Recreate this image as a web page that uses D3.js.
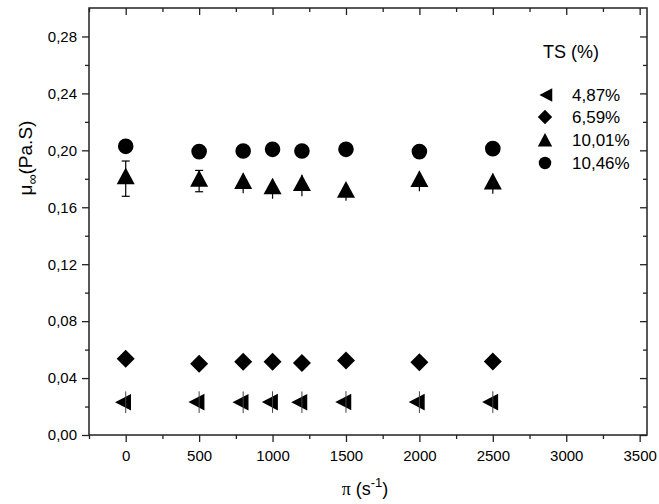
<!DOCTYPE html>
<html>
<head>
<meta charset="utf-8">
<script src="https://cdn.jsdelivr.net/npm/d3@7"></script>
<style>
  body { margin: 0; background: #fff; }
  svg { display: block; }
  text { font-family: Arial, "Liberation Sans", sans-serif; fill: #000; }
</style>
</head>
<body>
<svg id="chart" width="659" height="504"></svg>
<script>
// ---- data ----
const shearRates = [0, 500, 800, 1000, 1200, 1500, 2000, 2500];
const ts487  = [0.0230, 0.0231, 0.0230, 0.0231, 0.0230, 0.0232, 0.0231, 0.0231];
const err487 = [0.0076, 0.0076, 0.0076, 0.0076, 0.0076, 0.0076, 0.0076, 0.0076];
const ts659  = [0.0535, 0.0500, 0.0514, 0.0514, 0.0505, 0.0523, 0.0512, 0.0516];
const ts1001 = [0.1801, 0.1784, 0.1768, 0.1730, 0.1753, 0.1706, 0.1782, 0.1765];
const err1001 = [0.0124, 0.0075, 0.0070, 0.0070, 0.0075, 0.0060, 0.0070, 0.0070];
const caps1001 = [true, true, false, false, false, false, false, false];
const ts1046 = [0.2028, 0.1991, 0.1995, 0.2007, 0.1995, 0.2007, 0.1991, 0.2012];
const seriesNames = ["4,87%", "6,59%", "10,01%", "10,46%"];
const xTickValues = [0, 500, 1000, 1500, 2000, 2500, 3000, 3500];
const yTickValues = [0, 0.04, 0.08, 0.12, 0.16, 0.20, 0.24, 0.28];

// ---- layout ----
const L = 89, R = 647, T = 8, B = 435;
const svg = d3.select("#chart");
const x = d3.scaleLinear().domain([-250, 3550]).range([L, R]);
const y = d3.scaleLinear().domain([0, 0.30]).range([B, T]);
const fmtY = v => d3.format(".2f")(v).replace(".", ",");

// symbol shapes
const shapes = {
  left: s => `M${-10.7*s},0L${5.3*s},${-8.3*s}L${5.3*s},${8.3*s}Z`,
  diamond: s => `M0,${-9*s}L${9*s},0L0,${9*s}L${-9*s},0Z`,
  up: s => `M0,${-11.1*s}L${9*s},${5.6*s}L${-9*s},${5.6*s}Z`,
  circle: s => d3.symbol(d3.symbolCircle, Math.PI * Math.pow(7.8*s, 2))()
};

const series = [
  {name: seriesNames[0], values: ts487, err: err487, shape: "left", caps: null},
  {name: seriesNames[1], values: ts659, err: null, shape: "diamond", caps: null},
  {name: seriesNames[2], values: ts1001, err: err1001, shape: "up", caps: caps1001},
  {name: seriesNames[3], values: ts1046, err: null, shape: "circle", caps: null}
];

// ---- axes ----
const axisColor = "#222";
function styleAxis(g) {
  g.selectAll(".domain").remove();
  g.selectAll("line").attr("stroke", axisColor).attr("stroke-width", 1.3);
  g.selectAll("text").style("font-size", "15px").attr("fill", "#000");
}
const xMinor = d3.range(-250, 3551, 250).filter(v => v % 500 !== 0);
const yMinor = d3.range(0.02, 0.30, 0.04);

// bottom
svg.append("g").attr("transform", `translate(0,${B})`)
  .call(d3.axisBottom(x).tickValues(xTickValues).tickSize(7).tickPadding(8).tickFormat(d3.format("d")))
  .call(styleAxis);
svg.append("g").attr("transform", `translate(0,${B})`)
  .call(d3.axisBottom(x).tickValues(xMinor).tickSize(4).tickFormat(""))
  .call(styleAxis);
// top (inward)
svg.append("g").attr("transform", `translate(0,${T})`)
  .call(d3.axisBottom(x).tickValues(xTickValues).tickSize(7).tickFormat(""))
  .call(styleAxis);
svg.append("g").attr("transform", `translate(0,${T})`)
  .call(d3.axisBottom(x).tickValues(xMinor).tickSize(4).tickFormat(""))
  .call(styleAxis);
// left
svg.append("g").attr("transform", `translate(${L},0)`)
  .call(d3.axisLeft(y).tickValues(yTickValues).tickSize(7).tickPadding(5).tickFormat(fmtY))
  .call(styleAxis);
svg.append("g").attr("transform", `translate(${L},0)`)
  .call(d3.axisLeft(y).tickValues(yMinor).tickSize(4).tickFormat(""))
  .call(styleAxis);
// right (inward)
svg.append("g").attr("transform", `translate(${R},0)`)
  .call(d3.axisLeft(y).tickValues(yTickValues).tickSize(7).tickFormat(""))
  .call(styleAxis);
svg.append("g").attr("transform", `translate(${R},0)`)
  .call(d3.axisLeft(y).tickValues(yMinor).tickSize(4).tickFormat(""))
  .call(styleAxis);

// frame
svg.append("rect").attr("x", L).attr("y", T).attr("width", R - L).attr("height", B - T)
  .attr("fill", "none").attr("stroke", axisColor).attr("stroke-width", 1.5);

// ---- marks ----
const plot = svg.append("g");
series.forEach(s => {
  const pts = shearRates.map((xv, i) => ({x: xv, y: s.values[i], e: s.err ? s.err[i] : 0,
                                          cap: s.caps ? s.caps[i] : false}));
  if (s.err && s.shape !== "left") {
    const eg = plot.append("g").attr("stroke", "#000").attr("stroke-width", 1.2);
    pts.forEach(p => {
      eg.append("line").attr("x1", x(p.x)).attr("x2", x(p.x))
        .attr("y1", y(p.y - p.e)).attr("y2", y(p.y + p.e));
      if (p.cap) {
        [p.y - p.e, p.y + p.e].forEach(v => {
          eg.append("line").attr("x1", x(p.x) - 4).attr("x2", x(p.x) + 4)
            .attr("y1", y(v)).attr("y2", y(v));
        });
      }
    });
  }
  plot.append("g").selectAll("path").data(pts).join("path")
    .attr("d", shapes[s.shape](1))
    .attr("transform", p => `translate(${x(p.x)},${y(p.y)})`)
    .attr("fill", "#000");
  if (s.shape === "left" && s.err) {
    // thin error line shows through the symbol
    plot.append("g").selectAll("line").data(pts).join("line")
      .attr("x1", p => x(p.x)).attr("x2", p => x(p.x))
      .attr("y1", p => y(p.y - p.e)).attr("y2", p => y(p.y + p.e))
      .attr("stroke", "#444").attr("stroke-width", 1);
  }
});

// ---- legend ----
const lg = svg.append("g");
lg.append("text").attr("x", 543).attr("y", 58).style("font-size", "18px").text("TS (%)");
const legendRows = [95, 117, 140, 163];
series.forEach((s, i) => {
  const cy = legendRows[i];
  lg.append("path").attr("d", shapes[s.shape](0.8))
    .attr("transform", `translate(${s.shape === "left" ? 548 : 545},${s.shape === "up" ? cy + 2 : cy})`)
    .attr("fill", "#000");
  lg.append("text").attr("x", 572).attr("y", cy + 6).style("font-size", "17px").text(s.name);
});

// ---- axis titles ----
const xt = svg.append("text").attr("x", 365).attr("y", 495).attr("text-anchor", "middle").style("font-size", "18px");
xt.append("tspan").style("font-family", "'Liberation Serif', 'DejaVu Serif', serif").text("π");
xt.append("tspan").text("  (s");
xt.append("tspan").attr("dy", -8).style("font-size", "13px").text("-1");
xt.append("tspan").attr("dy", 8).text(")");

const yt = svg.append("text").attr("transform", "translate(32,158) rotate(-90)")
  .attr("text-anchor", "middle").style("font-size", "19px");
yt.append("tspan").text("μ");
yt.append("tspan").attr("dy", 5).style("font-size", "14px").text("∞");
yt.append("tspan").attr("dy", -5).text("(Pa.S)");
</script>
</body>
</html>
